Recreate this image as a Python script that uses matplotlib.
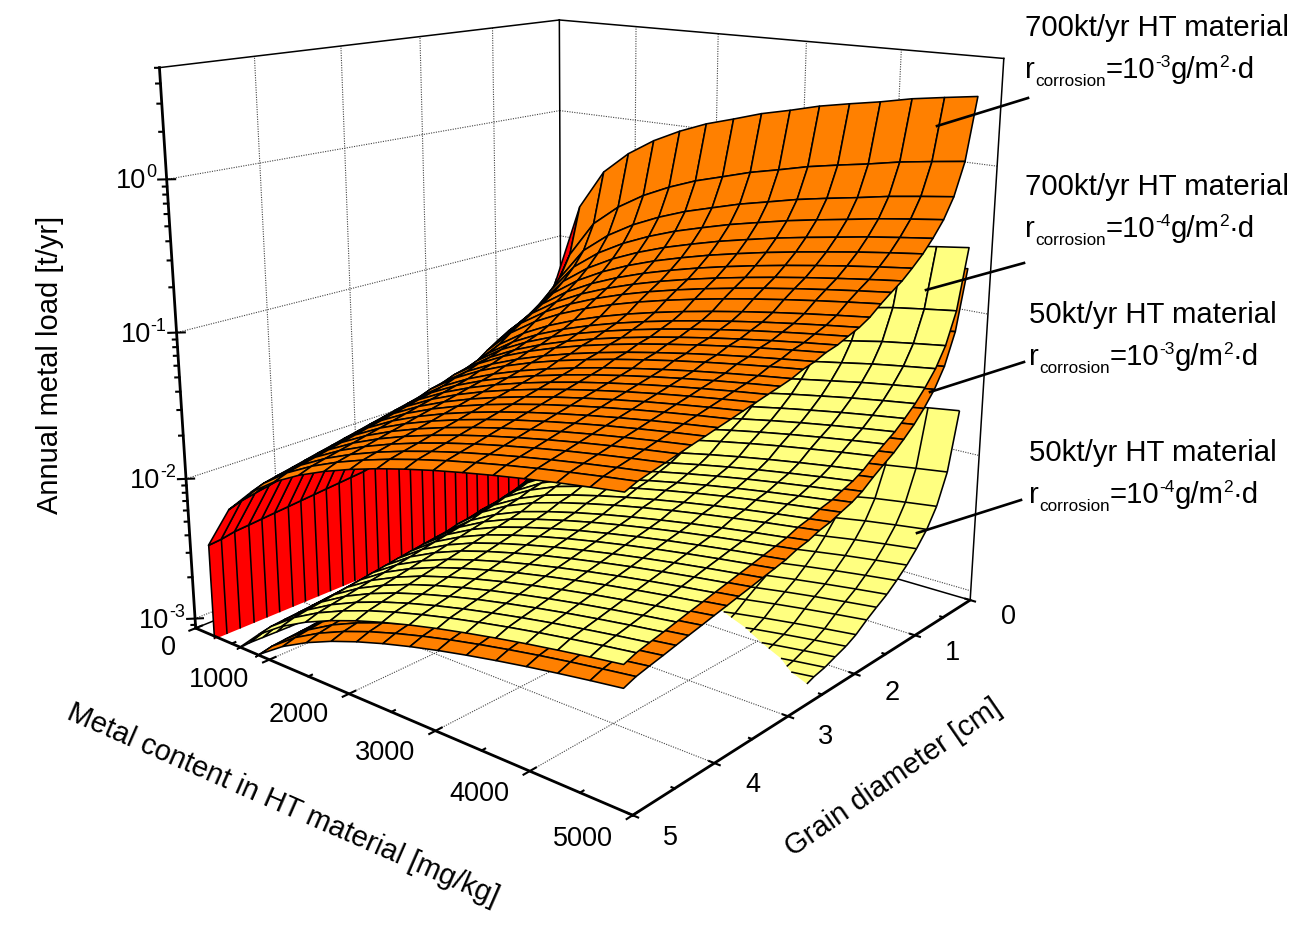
import numpy as np
import matplotlib
matplotlib.use("Agg")
import matplotlib.pyplot as plt
from matplotlib.lines import Line2D
from mpl_toolkits.mplot3d import proj3d
from mpl_toolkits.mplot3d.art3d import Poly3DCollection, Line3DCollection

plt.rcParams["font.family"] = ["Liberation Sans", "DejaVu Sans"]

W, H = 1307, 926
ZMIN, ZMAX = -3.07, 0.7
SKEW = 0.012

# values, log10 of the load in t/yr
metal_nodes = np.array([312.5, 625, 937.5, 1250, 1562.5, 1875, 2187.5, 2500, 2812.5, 3125, 3437.5, 3750, 4062.5, 4375, 4687.5, 5000])
metal_log = np.array([-1.204, -0.903, -0.727, -0.602, -0.505, -0.426, -0.359, -0.301, -0.25, -0.204, -0.163, -0.125, -0.09, -0.058, -0.028, 0.0])
metal_drop = np.array([0, -0.24, -0.12, -0.08, -0.055, -0.04, -0.03, -0.03, -0.02, -0.02, -0.01, -0.01, -0.01, 0, 0, 0])
metal_extra = np.array([0, -0.55, -0.28, -0.14, -0.06, -0.02, 0, 0, 0, 0, 0, 0, 0, 0, 0, 0])
grain_nodes = np.array([0.42, 0.575, 0.73, 0.88, 1.04, 1.19, 1.35, 1.5, 1.66, 1.81, 1.97, 2.12, 2.28, 2.43, 2.59, 2.74,
                        2.9, 3.05, 3.2, 3.36, 3.51, 3.67, 3.82, 3.98, 4.13, 4.29, 4.44, 4.59, 4.75, 4.9, 5.04])
grain_log = np.array([0.49, 0.09, -0.12, -0.25, -0.35, -0.43, -0.5, -0.56, -0.61, -0.66, -0.72, -0.76, -0.79, -0.82, -0.84, -0.87,
                      -0.89, -0.92, -0.94, -0.96, -0.98, -1.0, -1.02, -1.04, -1.06, -1.08, -1.1, -1.12, -1.14, -1.16, -1.19])
grain_weight = np.array([1, 0.8, 0.6, 0.4, 0.3, 0.2, 0.1] + [0]*24)
grain_extra = np.array([1]*11 + [0.93, 0.87, 0.8, 0.73, 0.67, 0.62, 0.56, 0.5, 0.45, 0.4, 0.36, 0.32, 0.28, 0.24, 0.2, 0.16, 0.12, 0.08, 0.04, 0])
wall_top = np.array([-1.25, -1.45, -1.62, -1.75, -1.85, -1.93, -2.0, -2.05, -2.09, -2.12, -2.14, -2.16, -2.18, -2.2, -2.21, -2.22,
                     -2.24, -2.25, -2.27, -2.28, -2.29, -2.3, -2.31, -2.32, -2.33, -2.34, -2.35, -2.36, -2.37, -2.39, -2.4])

offsets = [0.0, -0.98, -1.12, -2.09]
clip_levels = [ZMIN, ZMIN, ZMIN, -2.95]
colors = ["#FF8000", "#FFFF80", "#FF8000", "#FFFF80"]

x_ticks = [0, 1000, 2000, 3000, 4000, 5000]
y_ticks = [0, 1, 2, 3, 4, 5]
z_ticks = [-3, -2, -1, 0]

fig = plt.figure(figsize=(W/100, H/100), dpi=100)
ax = fig.add_axes([-76.2/W, 100.2/H, 1, 1], projection="3d", computed_zorder=False)
ax.set_xlim(0, 5000)
ax.set_ylim(5, 0)
ax.set_zlim(ZMIN, ZMAX)
ax.set_proj_type("persp", focal_length=0.3651)
ax.view_init(elev=15.9964, azim=-50.0178)
ax.set_box_aspect((1, 0.9991, 0.9974), zoom=1.0402)
ax.set_axis_off()
ax.autoscale(False)
ax.apply_aspect()
M = ax.get_proj()


def to_px(x, y, z):
    a, b, _ = proj3d.proj_transform(x, y, z, M)
    return ax.transData.transform((a, b))


def clip_poly(pts, lev):
    out = []
    for i in range(len(pts)):
        p, q = pts[i], pts[(i+1) % len(pts)]
        if p[2] >= lev:
            out.append(p)
        if (p[2] >= lev) != (q[2] >= lev):
            t = (lev-p[2])/(q[2]-p[2])
            out.append(tuple(p[k]+t*(q[k]-p[k]) for k in range(3)))
    return out


def clip_seg(p, q, lev):
    if p[2] < lev and q[2] < lev:
        return None
    if p[2] < lev or q[2] < lev:
        t = (lev-p[2])/(q[2]-p[2])
        m = tuple(p[k]+t*(q[k]-p[k]) for k in range(3))
        return (m, q) if p[2] < lev else (p, m)
    return (p, q)


def node(X, Y, Z, i, j):
    # the mesh leans a little towards low metal at the coarse grain end
    return (X[i]*(1-SKEW*(Y[j]-Y[0])/(Y[-1]-Y[0])), Y[j], Z[i, j])


def add_mesh(polys, segs, col, zo):
    pc = Poly3DCollection(polys, facecolors=col, edgecolors="none", zorder=zo, zsort="average")
    lc = Line3DCollection(segs, colors="k", linewidths=1.15, zorder=zo+0.5)
    ax.add_collection3d(pc)
    ax.add_collection3d(lc)
    pc.set_clip_on(False)
    lc.set_clip_on(False)


def draw_cells(X, Y, Z, col, lev, zo, i0=0, i1=None, edged=True):
    n = len(X) - 1 if i1 is None else i1
    polys, segs = [], []
    for i in range(i0, n):
        for j in range(len(Y)-1):
            q = [node(X, Y, Z, i, j), node(X, Y, Z, i+1, j), node(X, Y, Z, i+1, j+1), node(X, Y, Z, i, j+1)]
            c = clip_poly(q, lev)
            if len(c) >= 3:
                polys.append(c)
    if edged:
        pc = Poly3DCollection(polys, facecolors=col, edgecolors="k", linewidths=1.15, zorder=zo, zsort="average")
        ax.add_collection3d(pc)
        pc.set_clip_on(False)
        return
    # no line along the cut at the floor
    for i in range(i0, n+1):
        for j in range(len(Y)-1):
            s = clip_seg(node(X, Y, Z, i, j), node(X, Y, Z, i, j+1), lev)
            if s:
                segs.append(s)
    for j in range(len(Y)):
        for i in range(i0, n):
            s = clip_seg(node(X, Y, Z, i, j), node(X, Y, Z, i+1, j), lev)
            if s:
                segs.append(s)
    add_mesh(polys, segs, col, zo)


base = metal_log[:, None] + grain_log[None, :] + metal_drop[:, None]*grain_weight[None, :]
base[0] = wall_top
lower = base + metal_extra[:, None]*grain_extra[None, :]

# grid on the floor and the two back walls
grid = dict(color="#444444", lw=0.8, ls=(0, (1, 1.2)), zorder=1, clip_on=False)
for d in x_ticks[1:-1]:
    ax.plot([d, d], [0, 0], [ZMIN, ZMAX], **grid)
    ax.plot([d, d], [0, 5], [ZMIN, ZMIN], **grid)
for g in y_ticks[1:-1]:
    ax.plot([0, 0], [g, g], [ZMIN, ZMAX], **grid)
    ax.plot([0, 5000], [g, g], [ZMIN, ZMIN], **grid)
for v in z_ticks:
    ax.plot([0, 0], [0, 5], [v, v], **grid)
    ax.plot([0, 5000], [0, 0], [v, v], **grid)

thin = dict(color="k", lw=1.1, zorder=1.5, clip_on=False)
ax.plot([0, 0], [0, 5], [ZMAX, ZMAX], **thin)
ax.plot([0, 5000], [0, 0], [ZMAX, ZMAX], **thin)
ax.plot([0, 0], [0, 0], [ZMIN, ZMAX], **thin)
ax.plot([5000, 5000], [0, 0], [ZMIN, ZMAX], **thin)
ax.plot([0, 0], [0, 5], [ZMIN, ZMIN], **thin)
ax.plot([0, 5000], [0, 0], [ZMIN, ZMIN], **thin)

# red wall under the first metal value
x0 = metal_nodes[0]
wall_polys, wall_segs = [], []
for j in range(len(grain_nodes)-1):
    wall_polys.append([(x0, grain_nodes[j], ZMIN), (x0, grain_nodes[j+1], ZMIN), (x0, grain_nodes[j+1], wall_top[j+1]), (x0, grain_nodes[j], wall_top[j])])
    wall_segs.append([(x0, grain_nodes[j], wall_top[j]), (x0, grain_nodes[j+1], wall_top[j+1])])
for j in range(len(grain_nodes)):
    wall_segs.append([(x0, grain_nodes[j], ZMIN), (x0, grain_nodes[j], wall_top[j])])
add_mesh(wall_polys, wall_segs, "#FF0000", 2)

# surfaces, back to front
draw_cells(metal_nodes, grain_nodes, lower + offsets[3], colors[3], clip_levels[3], 3, i0=1, edged=False)
draw_cells(metal_nodes, grain_nodes, lower + offsets[2], colors[2], clip_levels[2], 4, i0=1)
draw_cells(metal_nodes, grain_nodes, lower + offsets[1], colors[1], clip_levels[1], 5, i0=1)
draw_cells(metal_nodes, grain_nodes, base, "#FF0000", ZMIN, 7, 0, 1)
draw_cells(metal_nodes, grain_nodes, base, colors[0], ZMIN, 8, 1)

# axes and ticks
bold = dict(color="k", lw=2.0, zorder=10, clip_on=False)
ax.plot([0, 5000], [5, 5], [ZMIN, ZMIN], **bold)
ax.plot([5000, 5000], [5, 0], [ZMIN, ZMIN], **bold)
ax.plot([0, 0], [5, 5], [ZMIN, ZMAX], **bold)
tk = dict(color="k", lw=1.5, zorder=10, clip_on=False)
for d in x_ticks:
    ax.plot([d, d], [4.93, 5.07], [ZMIN, ZMIN], **tk)
    if d < 5000:
        ax.plot([d+500, d+500], [4.96, 5], [ZMIN, ZMIN], **tk)
for g in y_ticks:
    ax.plot([4950, 5050], [g, g], [ZMIN, ZMIN], **tk)
    if g < 5:
        ax.plot([4970, 5000], [g+0.5, g+0.5], [ZMIN, ZMIN], **tk)
for v in z_ticks:
    ax.plot([-48, 48], [5.05, 4.95], [v, v], **tk)
for m in [-4, -3, -2, -1, 0]:
    for t in range(2, 10):
        v = m + np.log10(t)
        if ZMIN <= v <= ZMAX:
            ax.plot([-25, 0], [5.025, 5], [v, v], **tk)

renderer = fig.canvas.get_renderer()


def put_text(px, py, pieces, align="left"):
    # pieces are (text, size, rise in px), py is the baseline in image pixels
    widths = []
    for s, size, rise in pieces:
        t = fig.text(0, 0, s, fontsize=size)
        widths.append(t.get_window_extent(renderer).width)
        t.remove()
    left = px - sum(widths) if align == "right" else px
    for (s, size, rise), w in zip(pieces, widths):
        fig.text(left/W, 1-(py-rise)/H, s, fontsize=size, va="baseline", ha="left")
        left += w


TICK = 19.5
for d in x_ticks:
    a = to_px(d, 5, ZMIN)
    fig.text((a[0]-20)/W, (a[1]-20-d*0.0008)/H, str(d), fontsize=TICK, ha="right", va="center")
for g in y_ticks:
    a = to_px(5000, g, ZMIN)
    fig.text((a[0]+38)/W, (a[1]-17-g*1.2)/H, str(g), fontsize=TICK, ha="center", va="center")
for v in z_ticks:
    a = to_px(0, 5, v)
    put_text(a[0]-10, H-a[1]+9, [("10", TICK, 0), (str(v), 13, 11)], align="right")

fig.text(50/W, 1-365/H, "Annual metal load [t/yr]", fontsize=21, rotation=90, ha="center", va="center")
fig.text(283/W, 1-805/H, "Metal content in HT material [mg/kg]", fontsize=21, rotation=-23.6, ha="center", va="center", rotation_mode="anchor")
fig.text(893/W, 1-778/H, "Grain diameter [cm]", fontsize=21, rotation=34.6, ha="center", va="center", rotation_mode="anchor")

notes = [(1025, 36, "700kt/yr HT material", "-3"), (1025, 195, "700kt/yr HT material", "-4"),
         (1029, 323, "50kt/yr HT material", "-3"), (1029, 461, "50kt/yr HT material", "-4")]
for x, y, title, ex in notes:
    fig.text(x/W, 1-y/H, title, fontsize=21.2, va="baseline")
    put_text(x, y+42, [("r", 21.2, 0), ("corrosion", 12.3, -8), ("=10", 21.2, 0), (ex, 12.5, 11), ("g/m", 21.2, 0), ("2", 12.5, 11), ("·d", 21.2, 0)])

leaders = [(937, 126, 1028, 98), (926, 290, 1024, 263), (930, 392, 1024, 362), (917, 533, 1021, 500)]
for a, b, c, d in leaders:
    fig.add_artist(Line2D([a/W, c/W], [1-b/H, 1-d/H], color="k", lw=1.9))

fig.savefig("out.png", dpi=100)
